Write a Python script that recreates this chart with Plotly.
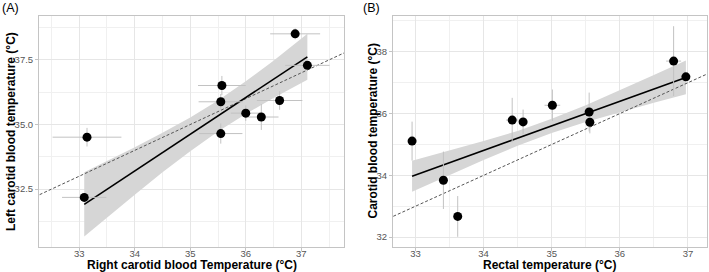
import plotly.graph_objects as go

# ---------------- Panel A data ----------------
xA = [33.09, 33.14, 35.55, 35.55, 35.57, 36.00, 36.28, 36.61, 36.89, 37.11]
yA = [32.18, 34.51, 34.65, 35.88, 36.51, 35.44, 35.29, 35.93, 38.51, 37.29]
xerrA = [0.40, 0.62, 0.39, 0.40, 0.43, 0.27, 0.31, 0.41, 0.45, 0.40]
yerrA = [0.10, 0.36, 0.39, 0.30, 0.37, 0.30, 0.50, 0.36, 0.21, 0.15]

fitA_x = [33.09, 33.5, 34.0, 34.5, 35.0, 35.5, 36.0, 36.5, 37.11]
fitA_y = [31.91, 32.49, 33.20, 33.91, 34.62, 35.33, 36.04, 36.75, 37.62]
fitA_lo = [30.67, 31.40, 32.28, 33.15, 33.97, 34.73, 35.41, 36.03, 36.73]
fitA_hi = [33.15, 33.58, 34.12, 34.68, 35.27, 35.93, 36.67, 37.47, 38.51]

# ---------------- Panel B data ----------------
xB = [32.95, 33.41, 33.62, 34.42, 34.58, 35.01, 35.55, 35.56, 36.79, 36.97]
yB = [35.11, 33.84, 32.67, 35.79, 35.73, 36.27, 36.05, 35.72, 37.70, 37.19]
xerrB = [0, 0, 0, 0.09, 0, 0.115, 0, 0, 0.11, 0.06]
yerrB = [0.63, 0.93, 0.66, 0.72, 0.40, 0.51, 0.63, 0.36, 1.13, 0.10]

fitB_x = [32.95, 33.5, 34.0, 34.5, 35.0, 35.5, 36.0, 36.5, 36.97]
fitB_y = [33.97, 34.41, 34.81, 35.20, 35.60, 36.00, 36.40, 36.80, 37.17]
fitB_lo = [33.47, 34.02, 34.50, 34.96, 35.37, 35.73, 36.05, 36.35, 36.63]
fitB_hi = [34.47, 34.80, 35.11, 35.44, 35.83, 36.27, 36.75, 37.25, 37.72]

identity = [30, 40]

xtitleA = "Right carotid blood Temperature (°C)"
ytitleA = "Left carotid blood temperature (°C)"
xtitleB = "Rectal temperature (°C)"
ytitleB = "Carotid blood temperature (°C)"

W, H = 709, 272
FONT = "Liberation Sans, Arial, Helvetica, sans-serif"
BAND = "#d6d6d6"
EBAR = "#c2c2c2"

fig = go.Figure()


def add_panel(xa, ya, fx, fy, flo, fhi, px, py, pxe, pye):
    fig.add_trace(go.Scatter(
        x=fx + fx[::-1], y=fhi + flo[::-1], fill="toself", fillcolor=BAND,
        line=dict(width=0), mode="lines", hoverinfo="skip",
        xaxis=xa, yaxis=ya, showlegend=False))
    fig.add_trace(go.Scatter(
        x=identity, y=identity, mode="lines",
        line=dict(color="#555555", width=1, dash="3px,2px"),
        xaxis=xa, yaxis=ya, showlegend=False))
    fig.add_trace(go.Scatter(
        x=fx, y=fy, mode="lines", line=dict(color="black", width=1.6),
        xaxis=xa, yaxis=ya, showlegend=False))
    fig.add_trace(go.Scatter(
        x=px, y=py, mode="markers",
        marker=dict(color="black", size=9),
        error_x=dict(type="data", array=pxe, color=EBAR, thickness=1, width=0),
        error_y=dict(type="data", array=pye, color=EBAR, thickness=1, width=0),
        xaxis=xa, yaxis=ya, showlegend=False))


add_panel("x", "y", fitA_x, fitA_y, fitA_lo, fitA_hi, xA, yA, xerrA, yerrA)
add_panel("x2", "y2", fitB_x, fitB_y, fitB_lo, fitB_hi, xB, yB, xerrB, yerrB)

ax_common = dict(
    showline=True, mirror=True, linecolor="#c4c4c4", linewidth=1,
    ticks="outside", ticklen=3, tickcolor="#c4c4c4", tickwidth=1,
    showgrid=True, gridcolor="#e6e6e6", gridwidth=0.8,
    zeroline=False,
    tickfont=dict(family=FONT, size=9.5, color="#555555"),
)


def minor(dt, t0):
    return dict(dtick=dt, tick0=t0, showgrid=True, gridcolor="#f0f0f0",
                gridwidth=0.6, ticks="")


ydom = [1 - 247 / H, 1 - 16 / H]
fig.update_layout(
    width=W, height=H,
    margin=dict(l=0, r=0, t=0, b=0, pad=0),
    paper_bgcolor="white", plot_bgcolor="white",
    showlegend=False,
    xaxis=dict(domain=[39 / W, 344 / W], range=[32.275, 37.77],
               tick0=33, dtick=1, minor=minor(0.5, 32.5), anchor="y",
               ticklabelstandoff=-5, **ax_common),
    yaxis=dict(domain=ydom, range=[30.26, 39.2],
               tick0=32.5, dtick=2.5, tickformat=".1f",
               minor=minor(1.25, 31.25), anchor="x", **ax_common),
    xaxis2=dict(domain=[393 / W, 707 / W], range=[32.67, 37.28],
                tick0=33, dtick=1, minor=minor(0.5, 32.5), anchor="y2",
                ticklabelstandoff=-5, **ax_common),
    yaxis2=dict(domain=ydom, range=[31.68, 39.16],
                tick0=32, dtick=2, minor=minor(1, 31), anchor="x2", **ax_common),
)

ann = []


def txt(text, xpx, ypx, size, bold=False, angle=0, xanchor="center"):
    ann.append(dict(
        text=f"<b>{text}</b>" if bold else text,
        x=xpx / W, y=1 - ypx / H, xref="paper", yref="paper",
        xanchor=xanchor, yanchor="middle", showarrow=False, textangle=angle,
        font=dict(family=FONT, size=size, color="black")))


txt("(A)", 0, 7.5, 12.5, xanchor="left")
txt("(B)", 361, 7.5, 12.5, xanchor="left")
txt(xtitleA, 191.5, 265, 12, bold=True)
txt(xtitleB, 550, 265, 12, bold=True)
txt(ytitleA, 10.5, 131.5, 12, bold=True, angle=-90)
txt(ytitleB, 372, 131.5, 12, bold=True, angle=-90)
fig.update_layout(annotations=ann)

fig.write_html("out.html", config={"displayModeBar": False},
               post_script="document.body.style.margin='0';document.body.style.padding='0';")
